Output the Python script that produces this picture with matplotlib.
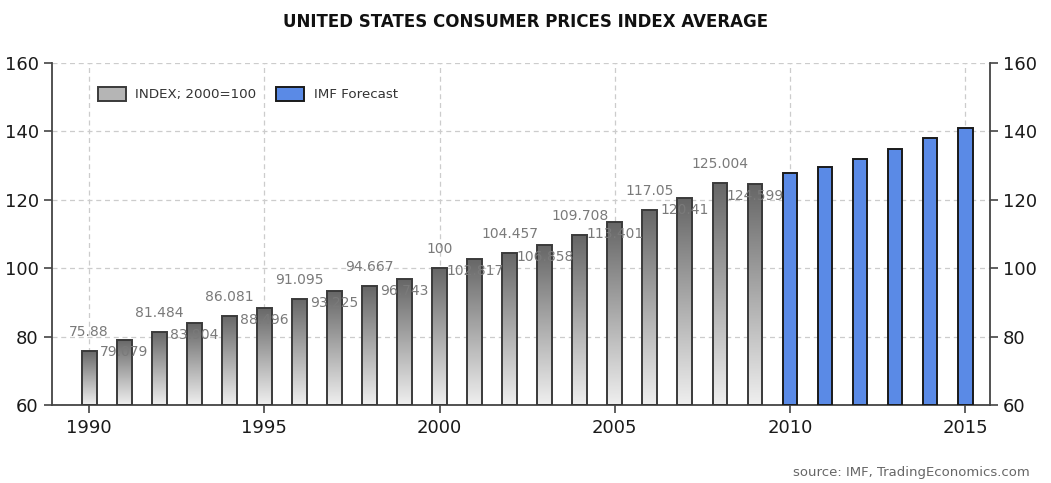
import matplotlib

matplotlib.use("Agg")
import matplotlib.pyplot as plt
import numpy as np
from matplotlib.colors import LinearSegmentedColormap
from matplotlib.patches import Rectangle

years = [1990, 1991, 1992, 1993, 1994, 1995, 1996, 1997, 1998, 1999,
         2000, 2001, 2002, 2003, 2004, 2005, 2006, 2007, 2008, 2009]
index = [75.88, 79.079, 81.484, 83.904, 86.081, 88.496, 91.095, 93.225, 94.667, 96.743,
         100, 102.817, 104.457, 106.858, 109.708, 113.401, 117.05, 120.41, 125.004, 124.599]
fc_years = [2010, 2011, 2012, 2013, 2014, 2015]
forecast = [127.7, 129.6, 132.0, 135.0, 138.1, 141.1]

BASE = 60
fig = plt.figure(figsize=(10.51, 4.83), dpi=100)
ax = fig.add_axes([0.0495, 0.1615, 0.8925, 0.708])

# grey gradient bars (dark on top, light at the base)
cmap = LinearSegmentedColormap.from_list("g", ["#efefef", "#666666"])
grad = np.linspace(0, 1, 256).reshape(-1, 1)
bars = ax.bar(years, [v - BASE for v in index], bottom=BASE, width=0.42,
              facecolor="none", edgecolor="#3a3a3a", linewidth=1.4, zorder=3)
for b in bars:
    x0, y0, w, h = b.get_x(), b.get_y(), b.get_width(), b.get_height()
    im = ax.imshow(grad, cmap=cmap, aspect="auto", origin="lower",
                   extent=(x0, x0 + w, y0, y0 + h), zorder=2, interpolation="bilinear")
    im.set_clip_path(b)

ax.bar(fc_years, [v - BASE for v in forecast], bottom=BASE, width=0.42,
       color="#5a8ae6", edgecolor="#1a1a1a", linewidth=1.4, zorder=3)

# value labels alternate above / just below the bar top
for i, (yr, v) in enumerate(zip(years, index)):
    off = 19 if i % 2 == 0 else -12
    ax.annotate(f"{v:g}", (yr, v), xytext=(0, off), textcoords="offset pixels",
                ha="center", va="center", fontsize=10, color="#7a7a7a", zorder=4)

ax.set_xlim(1988.94, 2015.71)
ax.set_ylim(60, 160)
ax.set_xticks([1990, 1995, 2000, 2005, 2010, 2015])
ax.set_yticks([60, 80, 100, 120, 140, 160])
ax.grid(True, linestyle=(0, (4, 3)), color="#cccccc", linewidth=0.9, zorder=0)
ax.set_axisbelow(True)
ax.tick_params(axis="both", labelsize=13, length=6, width=1.2, color="#444444",
               labelcolor="#1a1a1a", right=True, labelright=True)
ax.tick_params(axis="x", pad=4)
ax.spines["top"].set_visible(False)
for s in ["left", "right", "bottom"]:
    ax.spines[s].set_color("#444444")
    ax.spines[s].set_linewidth(1.3)

h1 = Rectangle((0, 0), 1, 1, facecolor="#b5b5b5", edgecolor="#3a3a3a", lw=1.4)
h2 = Rectangle((0, 0), 1, 1, facecolor="#5a8ae6", edgecolor="#1a1a1a", lw=1.4)
leg = ax.legend([h1, h2], ["INDEX; 2000=100", "IMF Forecast"], loc="upper left",
                bbox_to_anchor=(0.036, 0.965), ncol=2, frameon=False, fontsize=9.6,
                handlelength=2.1, handleheight=1.2, columnspacing=1.5, handletextpad=0.7)
for t in leg.get_texts():
    t.set_color("#333333")

fig.text(0.5, 0.955, "UNITED STATES CONSUMER PRICES INDEX AVERAGE", ha="center", va="center",
         fontsize=12, fontweight="bold", color="#111111")
fig.text(0.98, 0.022, "source: IMF, TradingEconomics.com", ha="right", va="center",
         fontsize=9.5, color="#666666")

fig.savefig("out.png", dpi=100)
